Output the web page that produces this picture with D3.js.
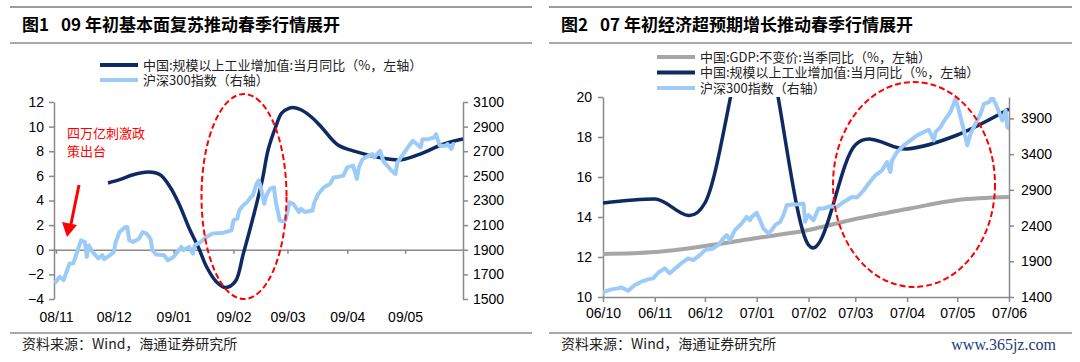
<!DOCTYPE html>
<html>
<head>
<meta charset="utf-8">
<script src="https://cdn.jsdelivr.net/npm/d3@7"></script>
<style>
  body { margin: 0; background: #fff; }
  svg { display: block; }
</style>
</head>
<body>
<svg id="chart" width="1080" height="362"></svg>
<script>
// ---------- Fig.1 : 2008/11 - 2009/05 ----------
const f1Months = ["2008-11-01", "2008-12-01", "2009-01-01", "2009-02-01", "2009-03-01", "2009-04-01", "2009-05-01"];
const f1LeftTicks = [-4, -2, 0, 2, 4, 6, 8, 10, 12];
const f1RightTicks = [1500, 1700, 1900, 2100, 2300, 2500, 2700, 2900, 3100];

// industrial production yoy (%)
const f1Ip = [
  ["2008-11-28", 5.42], ["2008-12-04", 5.69], ["2008-12-11", 6.09], ["2008-12-19", 6.31],
  ["2008-12-25", 6.09], ["2008-12-30", 5.14], ["2009-01-04", 3.66], ["2009-01-09", 1.76],
  ["2009-01-14", 0.14], ["2009-01-18", -1.36], ["2009-01-23", -2.57], ["2009-01-28", -3.06],
  ["2009-02-02", -2.57], ["2009-02-06", -0.41], ["2009-02-12", 3.11], ["2009-02-16", 5.69],
  ["2009-02-19", 8.12], ["2009-02-23", 10.02], ["2009-02-26", 11.1], ["2009-03-02", 11.51],
  ["2009-03-04", 11.56], ["2009-03-08", 11.37], ["2009-03-14", 10.7], ["2009-03-19", 9.89],
  ["2009-03-27", 8.53], ["2009-04-05", 7.99], ["2009-04-19", 7.45], ["2009-04-29", 7.31],
  ["2009-05-10", 7.85], ["2009-05-20", 8.53], ["2009-05-31", 8.99]
];

// CSI 300 index
const f1Hs = [
  ["2008-11-01", 1640], ["2008-11-03", 1680], ["2008-11-05", 1653], ["2008-11-08", 1788],
  ["2008-11-10", 1790], ["2008-11-12", 1882], ["2008-11-14", 1977], ["2008-11-16", 1963],
  ["2008-11-17", 1842], ["2008-11-18", 1936], ["2008-11-20", 1882], ["2008-11-23", 1829],
  ["2008-11-25", 1856], ["2008-11-26", 1823], ["2008-11-29", 1856], ["2008-12-01", 1882],
  ["2008-12-02", 1963], ["2008-12-04", 2044], ["2008-12-07", 2084], ["2008-12-08", 2084],
  ["2008-12-09", 1977], ["2008-12-11", 1963], ["2008-12-14", 1990], ["2008-12-16", 2044],
  ["2008-12-18", 2031], ["2008-12-20", 1990], ["2008-12-21", 1896], ["2008-12-23", 1861],
  ["2008-12-27", 1856], ["2008-12-29", 1815], ["2009-01-01", 1842], ["2009-01-03", 1882],
  ["2009-01-05", 1923], ["2009-01-06", 1896], ["2009-01-09", 1923], ["2009-01-10", 1896],
  ["2009-01-11", 1869], ["2009-01-12", 1936], ["2009-01-15", 1963], ["2009-01-18", 2003],
  ["2009-01-21", 2031], ["2009-01-27", 2039], ["2009-01-31", 2057], ["2009-02-01", 2138],
  ["2009-02-03", 2152], ["2009-02-04", 2219], ["2009-02-06", 2260], ["2009-02-08", 2286],
  ["2009-02-10", 2327], ["2009-02-11", 2340], ["2009-02-13", 2434], ["2009-02-14", 2462],
  ["2009-02-15", 2421], ["2009-02-17", 2273], ["2009-02-18", 2340], ["2009-02-20", 2394],
  ["2009-02-22", 2408], ["2009-02-23", 2286], ["2009-02-25", 2138], ["2009-02-27", 2130],
  ["2009-02-28", 2138], ["2009-03-02", 2286], ["2009-03-04", 2273], ["2009-03-07", 2206],
  ["2009-03-08", 2232], ["2009-03-10", 2206], ["2009-03-14", 2219], ["2009-03-15", 2286],
  ["2009-03-17", 2354], ["2009-03-20", 2408], ["2009-03-23", 2434], ["2009-03-25", 2488],
  ["2009-03-26", 2488], ["2009-03-30", 2502], ["2009-04-01", 2569], ["2009-04-04", 2583],
  ["2009-04-06", 2475], ["2009-04-07", 2569], ["2009-04-09", 2637], ["2009-04-12", 2664],
  ["2009-04-14", 2677], ["2009-04-15", 2650], ["2009-04-18", 2704], ["2009-04-20", 2610],
  ["2009-04-21", 2596], ["2009-04-24", 2542], ["2009-04-26", 2516], ["2009-04-27", 2610],
  ["2009-04-30", 2677], ["2009-05-03", 2744], ["2009-05-05", 2785], ["2009-05-07", 2758],
  ["2009-05-09", 2731], ["2009-05-10", 2798], ["2009-05-13", 2798], ["2009-05-16", 2812],
  ["2009-05-17", 2839], ["2009-05-19", 2744], ["2009-05-22", 2744], ["2009-05-23", 2758],
  ["2009-05-25", 2718], ["2009-05-26", 2758]
];

// ---------- Fig.2 : 2006/10 - 2007/06 ----------
const f2Months = ["2006-10-01", "2006-11-01", "2006-12-01", "2007-01-01", "2007-02-01",
                  "2007-03-01", "2007-04-01", "2007-05-01", "2007-06-01"];
const f2LeftTicks = [10, 12, 14, 16, 18, 20];
const f2RightTicks = [1400, 1900, 2400, 2900, 3400, 3900];
const f2IpValues = [14.7, 14.9, 14.7, 24.0, 12.6, 17.6, 17.4, 18.1, 19.4];
const f2GdpValues = [12.15, 12.25, 12.55, 12.95, 13.35, 13.9, 14.4, 14.85, 15.0];

const f2Hs = [
  ["2006-10-01", 1450], ["2006-10-02", 1474], ["2006-10-06", 1507], ["2006-10-10", 1521],
  ["2006-10-12", 1535], ["2006-10-16", 1488], ["2006-10-20", 1568], ["2006-10-24", 1614],
  ["2006-10-28", 1647], ["2006-10-31", 1661], ["2006-11-03", 1739], ["2006-11-07", 1801],
  ["2006-11-10", 1731], ["2006-11-14", 1815], ["2006-11-18", 1893], ["2006-11-21", 1941],
  ["2006-11-24", 1917], ["2006-11-28", 1987], ["2006-12-01", 2056], ["2006-12-06", 2080],
  ["2006-12-09", 2126], ["2006-12-12", 2220], ["2006-12-14", 2266], ["2006-12-16", 2196],
  ["2006-12-19", 2336], ["2006-12-21", 2382], ["2006-12-23", 2429], ["2006-12-26", 2522],
  ["2006-12-28", 2475], ["2006-12-29", 2522], ["2007-01-01", 2578], ["2007-01-03", 2475],
  ["2007-01-05", 2359], ["2007-01-08", 2290], ["2007-01-10", 2336], ["2007-01-12", 2406],
  ["2007-01-15", 2452], ["2007-01-17", 2545], ["2007-01-19", 2685], ["2007-01-22", 2695],
  ["2007-01-26", 2699], ["2007-01-29", 2709], ["2007-01-30", 2452], ["2007-01-31", 2522],
  ["2007-02-01", 2545], ["2007-02-04", 2475], ["2007-02-07", 2639], ["2007-02-10", 2639],
  ["2007-02-14", 2671], ["2007-02-18", 2661], ["2007-02-22", 2731], ["2007-02-27", 2801],
  ["2007-03-02", 2792], ["2007-03-06", 2894], ["2007-03-09", 2988], ["2007-03-13", 3104],
  ["2007-03-17", 3174], ["2007-03-20", 3290], ["2007-03-22", 3150], ["2007-03-23", 3313],
  ["2007-03-26", 3429], ["2007-03-30", 3523], ["2007-04-03", 3593], ["2007-04-07", 3663],
  ["2007-04-11", 3709], ["2007-04-14", 3742], ["2007-04-17", 3593], ["2007-04-18", 3709],
  ["2007-04-21", 3779], ["2007-04-24", 3896], ["2007-04-27", 3989], ["2007-04-30", 4175],
  ["2007-05-02", 4012], ["2007-05-05", 3732], ["2007-05-07", 3523], ["2007-05-09", 3686],
  ["2007-05-12", 3826], ["2007-05-15", 3966], ["2007-05-17", 4105], ["2007-05-20", 4128],
  ["2007-05-22", 4198], ["2007-05-24", 4105], ["2007-05-26", 3989], ["2007-05-28", 3872],
  ["2007-05-30", 4012], ["2007-05-31", 3779], ["2007-06-01", 3759]
];

// ---------- drawing ----------
const svg = d3.select("#chart");
const parse = d3.timeParse("%Y-%m-%d");
const fmtMonth = d3.timeFormat("%y/%m");
const fmtInt = d3.format("d");

const NAVY = "#0f2a62", LIGHT = "#9ccbf7", GRAY = "#a6a6a6", AXIS = "#8a8a8a", RED = "#ff0000";
const LATIN = "'Liberation Sans', Arial, 'Noto Sans CJK SC', sans-serif";
const CJK = "'Noto Sans CJK SC', 'Liberation Sans', sans-serif";

function styleAxis(g) {
  g.attr("font-family", LATIN).attr("font-size", 14);
  g.select(".domain").attr("stroke", AXIS).attr("stroke-width", 1.5);
  g.selectAll(".tick line").attr("stroke", AXIS).attr("stroke-width", 1.5);
  g.selectAll(".tick text").attr("fill", "#000");
}

// title bar, rules and source line of one panel
function frame(x0, x1, figNo, title) {
  svg.append("line").attr("x1", x0).attr("x2", x1).attr("y1", 7).attr("y2", 7)
    .attr("stroke", "#3a3a3a").attr("stroke-width", 1.2);
  const t = svg.append("text").attr("x", x0 + 12).attr("y", 31)
    .attr("font-family", CJK).attr("font-weight", "bold").attr("font-size", 17).attr("fill", "#000");
  t.append("tspan").text(figNo);
  t.append("tspan").attr("dx", 12).text(title);
  svg.append("line").attr("x1", x0).attr("x2", x1).attr("y1", 43).attr("y2", 43)
    .attr("stroke", "#8c8c8c").attr("stroke-width", 1.4);
  svg.append("line").attr("x1", x0).attr("x2", x1).attr("y1", 333).attr("y2", 333)
    .attr("stroke", "#8c8c8c").attr("stroke-width", 1.4);
  svg.append("text").attr("x", x0 + 12).attr("y", 349)
    .attr("font-family", CJK).attr("font-size", 14).attr("fill", "#222")
    .text("资料来源：Wind，海通证券研究所");
}

function legend(x, y0, dy, items) {
  items.forEach((it, i) => {
    const y = y0 + i * dy;
    svg.append("line").attr("x1", x).attr("x2", x + 38).attr("y1", y).attr("y2", y)
      .attr("stroke", it.color).attr("stroke-width", 4);
    svg.append("text").attr("x", x + 43).attr("y", y + 4.5)
      .attr("font-family", CJK).attr("font-size", 13).attr("fill", "#222").text(it.label);
  });
}

function clip(id, x0, y0, x1, y1) {
  svg.append("clipPath").attr("id", id).append("rect")
    .attr("x", x0).attr("y", y0).attr("width", x1 - x0).attr("height", y1 - y0);
}

// ===== Fig.1 =====
frame(10, 532, "图1", "09 年初基本面复苏推动春季行情展开");
legend(100, 65, 15, [
  { color: NAVY, label: "中国:规模以上工业增加值:当月同比（%，左轴）" },
  { color: LIGHT, label: "沪深300指数（右轴）" }
]);

const x1 = d3.scaleTime().domain([parse("2008-10-31"), parse("2009-05-31")]).range([54, 463]);
const yL1 = d3.scaleLinear().domain([-4, 12]).range([299, 102]);
const yR1 = d3.scaleLinear().domain([1500, 3100]).range([299, 102]);

svg.append("g").attr("transform", "translate(54,0)")
  .call(d3.axisLeft(yL1).tickValues(f1LeftTicks).tickFormat(fmtInt)
    .tickSize(5).tickSizeOuter(0).tickPadding(5))
  .call(styleAxis);
svg.append("g").attr("transform", "translate(463,0)")
  .call(d3.axisRight(yR1).tickValues(f1RightTicks).tickFormat(fmtInt)
    .tickSize(5).tickSizeOuter(0).tickPadding(5))
  .call(styleAxis);
svg.append("g").attr("transform", `translate(0,${yL1(0)})`)
  .call(d3.axisBottom(x1).tickValues(f1Months.map(parse)).tickSize(4).tickSizeOuter(0)
    .tickPadding(58).tickFormat(fmtMonth))
  .call(styleAxis);

clip("clip1", 54, 102, 463, 299);
const plot1 = svg.append("g").attr("clip-path", "url(#clip1)");

plot1.append("path").datum(f1Ip)
  .attr("fill", "none").attr("stroke", NAVY).attr("stroke-width", 3.5)
  .attr("d", d3.line().x(d => x1(parse(d[0]))).y(d => yL1(d[1])).curve(d3.curveCatmullRom.alpha(0.5)));

plot1.append("path").datum(f1Hs)
  .attr("fill", "none").attr("stroke", LIGHT).attr("stroke-width", 4)
  .attr("stroke-linejoin", "round").attr("stroke-linecap", "round")
  .attr("d", d3.line().x(d => x1(parse(d[0]))).y(d => yR1(d[1])));

// annotation: policy arrow and dashed ellipse
svg.append("text").attr("x", 67).attr("y", 138).attr("font-family", CJK).attr("font-size", 13)
  .attr("fill", RED).text("四万亿刺激政");
svg.append("text").attr("x", 67).attr("y", 156).attr("font-family", CJK).attr("font-size", 13)
  .attr("fill", RED).text("策出台");
svg.append("line").attr("x1", 79).attr("y1", 185).attr("x2", 71).attr("y2", 224)
  .attr("stroke", RED).attr("stroke-width", 3);
svg.append("path").attr("d", "M62,222 L77,225 L67,237 Z").attr("fill", RED);

svg.append("ellipse").attr("cx", 244).attr("cy", 196.5).attr("rx", 42.5).attr("ry", 102.5)
  .attr("fill", "none").attr("stroke", RED).attr("stroke-width", 2).attr("stroke-dasharray", "6,3");

// ===== Fig.2 =====
frame(549, 1072, "图2", "07 年初经济超预期增长推动春季行情展开");
legend(657, 57, 15.5, [
  { color: GRAY, label: "中国:GDP:不变价:当季同比（%，左轴）" },
  { color: NAVY, label: "中国:规模以上工业增加值:当月同比（%，左轴）" },
  { color: LIGHT, label: "沪深300指数（右轴）" }
]);

const x2 = d3.scaleTime().domain([parse("2006-10-01"), parse("2007-06-01")]).range([603, 1009]);
const yL2 = d3.scaleLinear().domain([10, 20]).range([297, 97]);
const yR2 = d3.scaleLinear().domain([1400, 4200]).range([297, 97]);

svg.append("g").attr("transform", "translate(603,0)")
  .call(d3.axisLeft(yL2).tickValues(f2LeftTicks).tickFormat(fmtInt)
    .tickSize(5).tickSizeOuter(0).tickPadding(6))
  .call(styleAxis);
svg.append("g").attr("transform", "translate(1009,0)")
  .call(d3.axisRight(yR2).tickValues(f2RightTicks).tickFormat(fmtInt)
    .tickSize(5).tickSizeOuter(0).tickPadding(7))
  .call(styleAxis);
svg.append("g").attr("transform", "translate(0,297)")
  .call(d3.axisBottom(x2).tickValues(f2Months.map(parse)).tickSize(5).tickSizeOuter(0)
    .tickPadding(6).tickFormat(fmtMonth))
  .call(styleAxis);

clip("clip2", 603, 97, 1009, 297);
const plot2 = svg.append("g").attr("clip-path", "url(#clip2)");
const monthLine = d3.line().x((d, i) => x2(parse(f2Months[i]))).curve(d3.curveCatmullRom.alpha(0));

plot2.append("path").datum(f2GdpValues)
  .attr("fill", "none").attr("stroke", GRAY).attr("stroke-width", 4)
  .attr("d", monthLine.y(d => yL2(d)));
plot2.append("path").datum(f2IpValues)
  .attr("fill", "none").attr("stroke", NAVY).attr("stroke-width", 3.5)
  .attr("d", monthLine.y(d => yL2(d)));
plot2.append("path").datum(f2Hs)
  .attr("fill", "none").attr("stroke", LIGHT).attr("stroke-width", 4)
  .attr("stroke-linejoin", "round").attr("stroke-linecap", "round")
  .attr("d", d3.line().x(d => x2(parse(d[0]))).y(d => yR2(d[1])));

svg.append("ellipse").attr("cx", 914).attr("cy", 184.5).attr("rx", 81).attr("ry", 102.5)
  .attr("fill", "none").attr("stroke", RED).attr("stroke-width", 2).attr("stroke-dasharray", "6,3");

// site watermark
svg.append("text").attr("x", 1056).attr("y", 350).attr("text-anchor", "end")
  .attr("font-family", "'Liberation Serif', 'DejaVu Serif', serif").attr("font-size", 16)
  .attr("fill", "#1d3b78").text("www.365jz.com");
</script>
</body>
</html>
